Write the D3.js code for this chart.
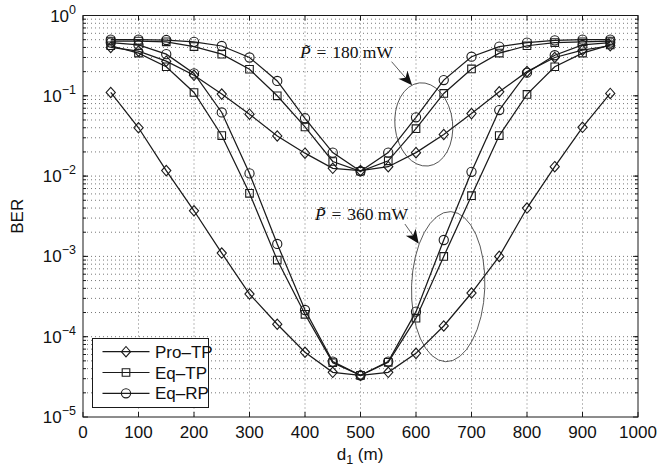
<!DOCTYPE html>
<html>
<head>
<meta charset="utf-8">
<script src="https://cdn.jsdelivr.net/npm/d3@7/dist/d3.min.js"></script>
<style>
  body { margin: 0; background: #fff; }
  svg { display: block; }
  .tick-label { font-family: "Liberation Sans", Arial, sans-serif; font-size: 17px; fill: #111; }
  .anno { font-family: "Liberation Serif", "DejaVu Serif", serif; font-size: 17.5px; fill: #111; }
</style>
</head>
<body>
<svg id="chart" width="660" height="467"></svg>
<script>
  // distances d1 (m)
  var dist = [50, 100, 150, 200, 250, 300, 350, 400, 450, 500, 550, 600, 650, 700, 750, 800, 850, 900, 950];

  // BER, P = 360 mW
  var proTP360 = [0.11, 0.04, 0.0117, 0.0037, 0.0011, 3.4e-4, 1.43e-4, 6.4e-5, 3.6e-5, 3.3e-5, 3.6e-5, 6.2e-5, 1.36e-4, 3.5e-4, 1.0e-3, 4.0e-3, 0.0131, 0.0405, 0.107];
  var eqTP360  = [0.42, 0.34, 0.23, 0.11, 0.032, 0.0061, 9e-4, 1.9e-4, 4.75e-5, 3.3e-5, 4.8e-5, 1.7e-4, 1.0e-3, 0.0057, 0.032, 0.104, 0.23, 0.34, 0.43];
  var eqRP360  = [0.46, 0.43, 0.33, 0.19, 0.062, 0.0108, 1.43e-3, 2.15e-4, 4.9e-5, 3.3e-5, 4.9e-5, 2.05e-4, 1.6e-3, 0.0113, 0.0665, 0.194, 0.32, 0.43, 0.46];

  // BER, P = 180 mW
  var proTP180 = [0.40, 0.36, 0.27, 0.18, 0.105, 0.059, 0.0316, 0.0193, 0.0125, 0.0117, 0.0131, 0.0196, 0.033, 0.06, 0.112, 0.2, 0.30, 0.37, 0.42];
  var eqTP180  = [0.48, 0.48, 0.47, 0.41, 0.33, 0.214, 0.1, 0.041, 0.0152, 0.0115, 0.0155, 0.039, 0.107, 0.216, 0.34, 0.42, 0.46, 0.47, 0.48];
  var eqRP180  = [0.5, 0.5, 0.495, 0.47, 0.417, 0.3, 0.153, 0.0525, 0.0196, 0.0115, 0.0196, 0.054, 0.157, 0.307, 0.41, 0.46, 0.49, 0.5, 0.5];

  var xTicks = [0, 100, 200, 300, 400, 500, 600, 700, 800, 900, 1000];
  var yExponents = [-5, -4, -3, -2, -1, 0];

  var legendNames = ['Pro\u2013TP', 'Eq\u2013TP', 'Eq\u2013RP'];
  var legendMarkers = ['diamond', 'square', 'circle'];

  var series = [
    { values: proTP360, marker: 'diamond' },
    { values: eqTP360, marker: 'square' },
    { values: eqRP360, marker: 'circle' },
    { values: proTP180, marker: 'diamond' },
    { values: eqTP180, marker: 'square' },
    { values: eqRP180, marker: 'circle' }
  ];

  // annotations in data coordinates
  var labels = [
    { d: 391, ber: 0.293, power: '180' },
    { d: 418, ber: 2.84e-3, power: '360' }
  ];
  var arrows = [
    { d0: 556, ber0: 0.266, d1: 593, ber1: 0.135 },
    { d0: 580, ber0: 2.53e-3, d1: 605, ber1: 1.44e-3 }
  ];
  var ellipses = [
    { d: 614, ber: 0.044, rd: 52, rDecades: 0.52, angle: -6 },
    { d: 658, ber: 4.2e-4, rd: 66, rDecades: 0.935, angle: 2 }
  ];

  (function() {
    var svg = d3.select('#chart');
    var plotLeft = 83, plotRight = 638, plotTop = 15.5, plotBottom = 417;

    var x = d3.scaleLinear().domain([0, 1000]).range([plotLeft, plotRight]);
    var y = d3.scaleLog().domain([1e-5, 1]).range([plotBottom, plotTop]);

    var ink = '#1a1a1a';

    // dotted grid
    var grid = svg.append('g')
      .attr('stroke', '#555')
      .attr('stroke-width', 0.8)
      .attr('stroke-dasharray', '1,3');

    grid.selectAll('.vgrid')
      .data(xTicks.slice(1, -1))
      .enter().append('line')
      .attr('x1', function(d) { return x(d); })
      .attr('x2', function(d) { return x(d); })
      .attr('y1', plotTop)
      .attr('y2', plotBottom);

    var yGridVals = [];
    yExponents.slice(0, -1).forEach(function(e) {
      for (var m = 1; m <= 9; m++) {
        if (m === 1 && e === -5) continue;
        yGridVals.push(m * Math.pow(10, e));
      }
    });

    grid.selectAll('.hgrid')
      .data(yGridVals)
      .enter().append('line')
      .attr('x1', plotLeft)
      .attr('x2', plotRight)
      .attr('y1', function(v) { return y(v); })
      .attr('y2', function(v) { return y(v); });

    // ticks, inside on all sides
    var ticks = svg.append('g').attr('stroke', ink).attr('stroke-width', 1);
    xTicks.forEach(function(t) {
      ticks.append('line').attr('x1', x(t)).attr('x2', x(t)).attr('y1', plotBottom).attr('y2', plotBottom - 5);
      ticks.append('line').attr('x1', x(t)).attr('x2', x(t)).attr('y1', plotTop).attr('y2', plotTop + 5);
    });
    yExponents.forEach(function(e) {
      var v = Math.pow(10, e);
      ticks.append('line').attr('x1', plotLeft).attr('x2', plotLeft + 5).attr('y1', y(v)).attr('y2', y(v));
      ticks.append('line').attr('x1', plotRight).attr('x2', plotRight - 5).attr('y1', y(v)).attr('y2', y(v));
    });
    yGridVals.forEach(function(v) {
      ticks.append('line').attr('x1', plotLeft).attr('x2', plotLeft + 3).attr('y1', y(v)).attr('y2', y(v));
      ticks.append('line').attr('x1', plotRight).attr('x2', plotRight - 3).attr('y1', y(v)).attr('y2', y(v));
    });

    // box
    svg.append('rect')
      .attr('x', plotLeft).attr('y', plotTop)
      .attr('width', plotRight - plotLeft).attr('height', plotBottom - plotTop)
      .attr('fill', 'none').attr('stroke', ink).attr('stroke-width', 1);

    // tick labels
    svg.selectAll('.xlab')
      .data(xTicks)
      .enter().append('text')
      .attr('class', 'tick-label')
      .attr('x', function(d) { return x(d); })
      .attr('y', 438)
      .attr('text-anchor', 'middle')
      .text(function(d) { return d; });

    var ylab = svg.selectAll('.ylab')
      .data(yExponents)
      .enter().append('text')
      .attr('class', 'tick-label')
      .attr('x', 76)
      .attr('y', function(e) { return y(Math.pow(10, e)) + 6; })
      .attr('text-anchor', 'end');
    ylab.append('tspan').text('10');
    ylab.append('tspan')
      .attr('dy', -8)
      .attr('font-size', 12.5)
      .text(function(e) { return e === 0 ? '0' : '\u2212' + Math.abs(e); });

    // axis titles
    var xt = svg.append('text')
      .attr('class', 'tick-label')
      .attr('x', 360)
      .attr('y', 460)
      .attr('text-anchor', 'middle');
    xt.append('tspan').text('d');
    xt.append('tspan').attr('dy', 4).attr('font-size', 12.5).text('1');
    xt.append('tspan').attr('dy', -4).text(' (m)');

    svg.append('text')
      .attr('class', 'tick-label')
      .attr('font-size', 18)
      .attr('transform', 'translate(22.5,' + ((plotTop + plotBottom) / 2) + ') rotate(-90)')
      .attr('text-anchor', 'middle')
      .text('BER');

    // markers
    function markerPath(kind) {
      if (kind === 'diamond') return 'M0,-5.2L4.6,0L0,5.2L-4.6,0Z';
      if (kind === 'square') return 'M-3.8,-3.8H3.8V3.8H-3.8Z';
      return d3.arc()({ innerRadius: 0, outerRadius: 4.6, startAngle: 0, endAngle: 2 * Math.PI });
    }

    var line = d3.line()
      .x(function(p) { return x(p[0]); })
      .y(function(p) { return y(p[1]); });

    var curves = svg.append('g');
    series.forEach(function(s) {
      var pts = dist.map(function(d, i) { return [d, s.values[i]]; });
      var g = curves.append('g');
      g.append('path')
        .attr('d', line(pts))
        .attr('fill', 'none')
        .attr('stroke', ink)
        .attr('stroke-width', 1.25);
      g.selectAll('.mk')
        .data(pts)
        .enter().append('path')
        .attr('d', markerPath(s.marker))
        .attr('transform', function(p) { return 'translate(' + x(p[0]) + ',' + y(p[1]) + ')'; })
        .attr('fill', 'none')
        .attr('stroke', ink)
        .attr('stroke-width', 1.1);
    });

    // annotations
    ellipses.forEach(function(el) {
      var cx = x(el.d), cy = y(el.ber);
      var rx = x(el.d + el.rd) - cx;
      var ry = cy - y(el.ber * Math.pow(10, el.rDecades));
      svg.append('ellipse')
        .attr('cx', cx).attr('cy', cy).attr('rx', rx).attr('ry', ry)
        .attr('transform', 'rotate(' + el.angle + ',' + cx + ',' + cy + ')')
        .attr('fill', 'none')
        .attr('stroke', '#333')
        .attr('stroke-width', 0.8);
    });

    arrows.forEach(function(a) {
      var x0 = x(a.d0), y0 = y(a.ber0), x1 = x(a.d1), y1 = y(a.ber1);
      var ang = Math.atan2(y1 - y0, x1 - x0);
      svg.append('line')
        .attr('x1', x0).attr('y1', y0).attr('x2', x1 - 6 * Math.cos(ang)).attr('y2', y1 - 6 * Math.sin(ang))
        .attr('stroke', '#333').attr('stroke-width', 0.8);
      var deg = ang * 180 / Math.PI;
      svg.append('path')
        .attr('d', 'M0,0L-14,-6L-10,0L-14,6Z')
        .attr('transform', 'translate(' + x1 + ',' + y1 + ') rotate(' + deg + ')')
        .attr('fill', '#111');
    });

    labels.forEach(function(lb) {
      var lx = x(lb.d), ly = y(lb.ber);
      var t = svg.append('text').attr('class', 'anno').attr('x', lx).attr('y', ly);
      t.append('tspan').attr('font-style', 'italic').text('P');
      t.append('tspan').text('\u2004=\u2004' + lb.power + ' mW');
      // tilde accent over the P
      svg.append('text')
        .attr('class', 'anno')
        .attr('x', lx + 7.5).attr('y', ly - 2)
        .attr('text-anchor', 'middle')
        .attr('font-size', 17)
        .text('\u02dc');
    });

    // legend
    var lg = svg.append('g');
    lg.append('rect')
      .attr('x', 92.5).attr('y', 338.5).attr('width', 116).attr('height', 69)
      .attr('fill', '#fff').attr('stroke', ink).attr('stroke-width', 1);
    legendNames.forEach(function(name, i) {
      var ly = 351.7 + i * 20.8;
      lg.append('line').attr('x1', 102.5).attr('x2', 149.5).attr('y1', ly).attr('y2', ly)
        .attr('stroke', ink).attr('stroke-width', 1.2);
      lg.append('path').attr('d', markerPath(legendMarkers[i]))
        .attr('transform', 'translate(126,' + ly + ')')
        .attr('fill', 'none').attr('stroke', ink).attr('stroke-width', 1.1);
      lg.append('text').attr('class', 'tick-label')
        .attr('x', 155).attr('y', ly + 6)
        .text(name);
    });
  })();
</script>
</body>
</html>
